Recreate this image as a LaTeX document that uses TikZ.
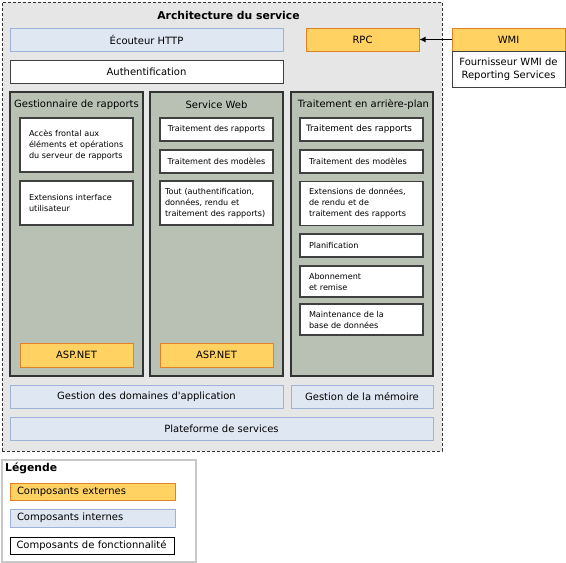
\documentclass[tikz,border=0pt]{standalone}
\usepackage{fontspec}
\setmainfont{DejaVu Sans}
\usetikzlibrary{arrows.meta,positioning}
\definecolor{extorange}{RGB}{255,210,98}
\definecolor{extborder}{RGB}{228,128,38}
\definecolor{intblue}{RGB}{223,231,243}
\definecolor{intborder}{RGB}{157,180,216}
\definecolor{panelgray}{RGB}{185,193,181}
\definecolor{archgray}{RGB}{230,230,230}
\definecolor{legborder}{RGB}{200,200,200}

\tikzset{
    box/.style={rectangle, inner sep=0pt, font=\fontsize{8.1}{11}\selectfont},
    bigtext/.style={font=\fontsize{10}{12.5}\selectfont},
    extbox/.style={box, bigtext, draw=extborder, fill=extorange, line width=1pt},
    intbox/.style={box, bigtext, draw=intborder, fill=intblue, line width=1pt},
    featbox/.style={box, draw=black!75, fill=white, line width=1.2pt},
    panel/.style={rectangle, draw=black!80, fill=panelgray, line width=1.5pt},
    legitem/.style={minimum width=165pt, text width=151pt, align=left},
}

\begin{document}
\begin{tikzpicture}[x=1pt, y=-1pt]
    \useasboundingbox (0,0) rectangle (566,563);
    % Service architecture frame
    \node[rectangle, draw=black!80, fill=archgray, dash pattern=on 3pt off 2pt, line width=1pt, minimum width=440pt, minimum height=449pt] (arch) at (222,226.5) {};
    \node[font=\bfseries\fontsize{10.8}{12}\selectfont] (archtitle) at (228.5,15) {Architecture du service};

    \node[intbox, minimum width=273pt, minimum height=23pt] (http) at (146.5,39.5) {Écouteur HTTP};
    \node[featbox, bigtext, line width=1pt, minimum width=273pt, minimum height=23pt] (auth) at (146.5,71.5) {Authentification};
    \node[extbox, minimum width=113pt, minimum height=23pt] (rpc) at (362.5,39.5) {RPC};

    % WMI provider
    \node[extbox, minimum width=113pt, minimum height=23pt] (wmi) at (508.5,39.5) {WMI};
    \node[featbox, bigtext, line width=0.8pt, minimum width=113pt, minimum height=36pt, align=center] (wmiprov) at (508.5,69) {Fournisseur WMI de\\Reporting Services};
    \draw[-{Latex[length=6pt,width=6pt]}, line width=1.2pt] (wmi) -- (rpc);

    % Panels
    \node[panel, minimum width=133pt, minimum height=284pt] (gest) at (76.5,234) {};
    \node[panel, minimum width=133pt, minimum height=284pt] (web) at (216.5,234) {};
    \node[panel, minimum width=142pt, minimum height=284pt] (back) at (362,234) {};
    \node[box, bigtext] (gesttitle) at (76.5,105) {Gestionnaire de rapports};
    \node[box, bigtext] (webtitle) at (216.5,105) {Service Web};
    \node[box, bigtext] (backtitle) at (363.5,105) {Traitement en arrière-plan};

    % Report manager
    \node[featbox, minimum width=113pt, minimum height=54pt, text width=95pt, align=left] (acces) at (76.5,145) {Accès frontal aux\\éléments et opérations\\du serveur de rapports};
    \node[featbox, minimum width=113pt, minimum height=44pt, text width=95pt, align=left] (extui) at (76.5,203) {Extensions interface\\utilisateur};
    \node[extbox, minimum width=113pt, minimum height=24pt] (asp1) at (76.5,355) {ASP.NET};

    % Web service
    \node[featbox, minimum width=113pt, minimum height=23pt] (webrep) at (216.5,129.5) {Traitement des rapports};
    \node[featbox, minimum width=113pt, minimum height=23pt] (webmod) at (216.5,161.5) {Traitement des modèles};
    \node[featbox, minimum width=113pt, minimum height=44pt, text width=103pt, align=left] (webtout) at (216.5,203) {Tout (authentification,\\données, rendu et\\traitement des rapports)};
    \node[extbox, minimum width=113pt, minimum height=24pt] (asp2) at (216.5,355) {ASP.NET};

    % Background processing
    \node[featbox, font=\fontsize{8.8}{11}\selectfont, minimum width=123pt, minimum height=23pt, text width=111pt, align=left] (bgrep) at (361.5,129.5) {Traitement des rapports};
    \node[featbox, minimum width=123pt, minimum height=23pt, text width=105pt, align=left] (bgmod) at (361.5,161.5) {Traitement des modèles};
    \node[featbox, minimum width=123pt, minimum height=44pt, text width=105pt, align=left] (bgext) at (361.5,203.5) {Extensions de données,\\de rendu et de\\traitement des rapports};
    \node[featbox, minimum width=123pt, minimum height=23pt, text width=105pt, align=left] (plan) at (361.5,245.5) {Planification};
    \node[featbox, minimum width=123pt, minimum height=31pt, text width=105pt, align=left] (abon) at (361.5,281.5) {Abonnement\\et remise};
    \node[featbox, minimum width=123pt, minimum height=31pt, text width=105pt, align=left] (maint) at (361.5,319.5) {Maintenance de la\\base de données};

    % Platform
    \node[intbox, minimum width=273pt, minimum height=23pt] (domaines) at (146.5,396.5) {Gestion des domaines d\textquotesingle application};
    \node[intbox, minimum width=142pt, minimum height=23pt] (memoire) at (362,396.5) {Gestion de la mémoire};
    \node[intbox, minimum width=423pt, minimum height=23pt] (plateforme) at (221.5,428.5) {Plateforme de services};

    % Legend
    \node[rectangle, draw=legborder, fill=white, line width=2pt, minimum width=194pt, minimum height=102pt] (legend) at (98.5,511) {};
    \node[box, font=\bfseries\fontsize{10.8}{12}\selectfont, anchor=west] (legtitle) at (5,468) {Légende};
    \node[extbox, legitem, minimum height=17pt] (legext) at (92.5,491.5) {Composants externes};
    \node[intbox, legitem, minimum height=18pt] (legint) at (92.5,518) {Composants internes};
    \node[featbox, bigtext, legitem, draw=black, line width=0.8pt, minimum width=164pt, minimum height=17pt] (legfeat) at (92,545.5) {Composants de fonctionnalité};
\end{tikzpicture}
\end{document}
